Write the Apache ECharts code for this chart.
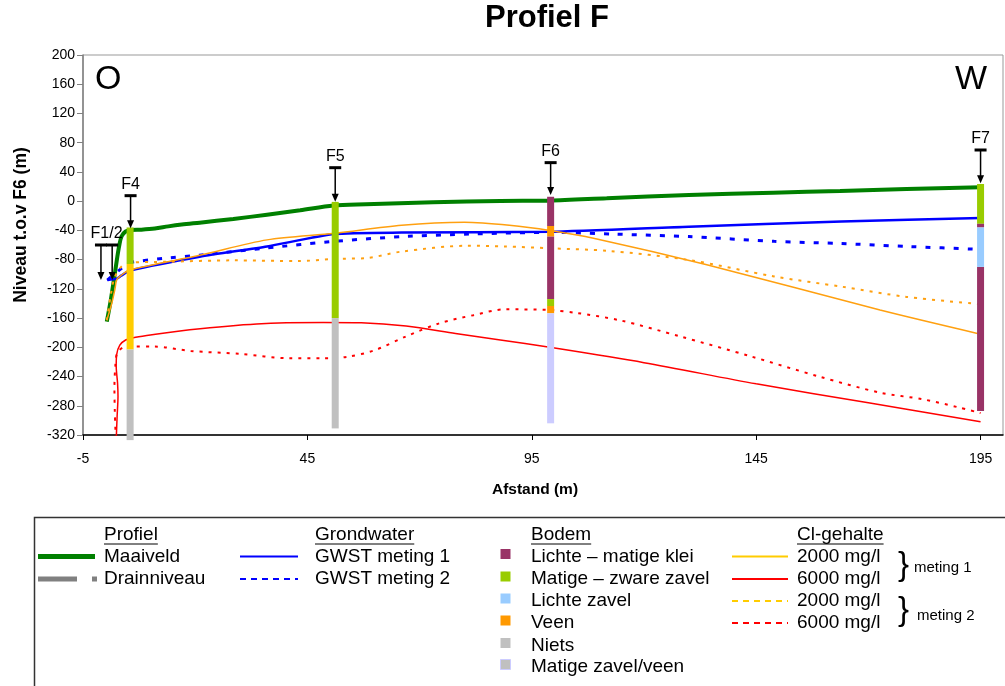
<!DOCTYPE html>
<html>
<head>
<meta charset="utf-8">
<title>Profiel F</title>
<script src="https://cdn.jsdelivr.net/npm/echarts@6/dist/echarts.min.js"></script>
<style>
  html, body { margin: 0; padding: 0; background: #fff; }
  #chart { width: 1005px; height: 686px; }
</style>
</head>
<body>
<div id="chart"></div>
<script>
// ---- Meetgegevens: [afstand (m), niveau t.o.v. F6] ----
const maaiveld = [[0.3,-165],[1.2,-135],[2.1,-99],[2.65,-76],[3.1,-60],[3.6,-48],[4.5,-41.5],[5.7,-39.5],[8,-39],[11,-37.5],[14,-34.5],[17,-32],[21,-29.4],[28.5,-24.4],[36,-18.5],[43.4,-12.5],[50.8,-6],[58,-4.3],[73,-1.5],[88,0.3],[99,0.7],[111.7,4],[130,8.5],[148.8,11.6],[163.7,14],[178.5,16.7],[195,19]];

const gwstMeting1 = [[0.4,-108],[2.5,-106],[3.5,-102],[5.5,-95],[21,-76],[36,-62],[51,-45],[66,-43],[99,-42],[130,-35],[164,-28],[195,-23]];
const gwstMeting2 = [[0.4,-108],[2,-100],[3.6,-92],[5.5,-84],[13.6,-78],[21,-74],[36,-64],[51,-55],[66,-48.5],[81,-45],[99,-42.6],[113,-45],[130,-48.5],[149,-55],[164,-58],[178.5,-62],[195,-66]];

const cl2000Meting1 = [[0.3,-163],[1.4,-140],[2.1,-121],[2.5,-108],[3.2,-103],[5.5,-94],[21,-74],[36,-53],[51,-44],[66,-33],[80,-29],[90,-33],[99,-40],[109,-51],[134,-87],[172.6,-149],[195,-182]];
const cl6000Meting1 = [[2.4,-327],[2.6,-295],[2.8,-267],[2.7,-249],[2.4,-226],[2.5,-210],[3.2,-197],[4.5,-190],[6.2,-187],[9.2,-184],[18.8,-176],[33.7,-168],[48.5,-166],[57,-166.5],[67,-171],[78,-181],[88,-190],[99,-200],[120,-221],[145,-250],[170,-276],[195,-302]];
const cl2000Meting2 = [[0.3,-163],[1.2,-128],[2,-105],[3.5,-90],[5.5,-84],[13.6,-83],[28.5,-81],[43,-82],[51,-79],[58,-78],[66,-69],[80.5,-61],[89,-62],[99,-64.5],[112,-68],[130,-80.5],[149,-103],[164,-117],[178.5,-131],[195,-141]];
const cl6000Meting2 = [[2.3,-325],[2.1,-290],[2,-255],[2.2,-226],[2.6,-208],[4,-200],[6,-199],[11,-199],[19,-205],[30,-209],[41,-215],[48,-215],[54,-213],[60,-204],[67,-185],[74.5,-167],[82,-156],[89,-148],[99,-149],[105,-153],[114.6,-163],[128,-185],[143.6,-212],[159,-240],[172.6,-262],[182,-271],[190,-282],[195,-290]];

// ---- Bodemopbouw per boring: [afstand, bovenkant, onderkant, bodemsoort] ----
const bodemSoorten = ['Lichte – matige klei', 'Matige – zware zavel', 'Lichte zavel', 'Veen', 'Niets', 'Matige zavel/veen', 'Zavel'];
const bodemF4 = [[5.5,-36,-86,1],[5.5,-86,-203,6],[5.5,-203,-327,4]];
const bodemF5 = [[51.2,-1,-160,1],[51.2,-160,-311,4]];
const bodemF6 = [[99.2,6,-34,0],[99.2,-34,-48.5,3],[99.2,-48.5,-134,0],[99.2,-134,-143.5,1],[99.2,-143.5,-153.5,3],[99.2,-153.5,-304,5]];
const bodemF7 = [[195,23.5,-31,1],[195,-31,-36,0],[195,-36,-90,2],[195,-90,-287,0]];

// ---- Peilbuizen: naam, afstand(en), bovenkant, maaiveld/waterstand ----
const peilbuizen = ['F1/2', 'F4', 'F5', 'F6', 'F7'];
const peilbuisX = [[-1.0, 1.5], [5.6], [51.2], [99.2], [195]];
const peilbuisTop = [-60, 7.5, 45.8, 52.7, 70];
const peilbuisVoet = [-108, -37, -0.7, 8.5, 24.5];

// ---- Legendateksten ----
const profielLabels = ['Maaiveld', 'Drainniveau'];
const grondwaterLabels = ['GWST meting 1', 'GWST meting 2'];
const clLabels = ['2000 mg/l', '6000 mg/l', '2000 mg/l', '6000 mg/l'];
const metingLabels = ['meting 1', 'meting 2'];

// ---- Stijlen ----
const FONT = '"Liberation Sans", Arial, sans-serif';
const bodemKleuren = ['#993366', '#99CC00', '#99CCFF', '#FF9900', '#C0C0C0', '#CCCCFF', '#FFCC00'];
const kleurMaaiveld = '#008000';
const kleurGwst = '#0000FF';
const kleurCl2000 = '#FFA010';
const kleurCl2000Legenda = '#FFCC00';
const kleurCl6000 = '#FF0000';

const chart = echarts.init(document.getElementById('chart'), null, { renderer: 'canvas' });

function lineSeries(name, data, color, width, dash, smooth) {
  return {
    name, type: 'line', data, showSymbol: false, symbol: 'none',
    smooth: smooth, animation: false,
    lineStyle: { color, width, type: dash || 'solid', cap: 'butt' }
  };
}

function bodemSeries(data) {
  return {
    type: 'custom', clip: false, animation: false, z: 5,
    encode: { x: 0, y: [1, 2] },
    data,
    renderItem(params, api) {
      const top = api.coord([api.value(0), api.value(1)]);
      const bot = api.coord([api.value(0), api.value(2)]);
      return {
        type: 'rect',
        shape: { x: top[0] - 3.5, y: top[1], width: 7, height: bot[1] - top[1] },
        style: { fill: bodemKleuren[api.value(3)] }
      };
    }
  };
}

const peilbuisSeries = {
  type: 'custom', clip: false, animation: false, z: 6,
  encode: { x: 0, y: 1 },
  data: peilbuizen.map((n, i) => [peilbuisX[i][0], peilbuisTop[i], i]),
  renderItem(params, api) {
    const i = api.value(2);
    const children = [];
    let sumX = 0, topY = 0;
    peilbuisX[i].forEach(x => {
      const t = api.coord([x, peilbuisTop[i]]);
      const b = api.coord([x, peilbuisVoet[i]]);
      sumX += t[0]; topY = t[1];
      children.push({ type: 'line', shape: { x1: t[0] - 6, y1: t[1], x2: t[0] + 6, y2: t[1] }, style: { stroke: '#000', lineWidth: 3 } });
      children.push({ type: 'line', shape: { x1: t[0], y1: t[1], x2: t[0], y2: b[1] - 6 }, style: { stroke: '#000', lineWidth: 1.5 } });
      children.push({ type: 'polygon', shape: { points: [[t[0] - 3.5, b[1] - 8], [t[0] + 3.5, b[1] - 8], [t[0], b[1]]] }, style: { fill: '#000' } });
    });
    children.push({
      type: 'text', x: sumX / peilbuisX[i].length, y: topY - 3,
      style: { text: peilbuizen[i], font: '16px ' + FONT, fill: '#000', align: 'center', verticalAlign: 'bottom' }
    });
    return { type: 'group', children };
  }
};

// ---- Legenda (kader onder de grafiek) ----
const measureCtx = document.createElement('canvas').getContext('2d');
function textWidth(text, font) { measureCtx.font = font; return measureCtx.measureText(text).width; }
const LEG_FONT = '19px ' + FONT;
const rowY = [556.5, 579, 601, 623, 645.5, 667];
const headerY = 535;

function legText(x, y, text, font) {
  return { type: 'text', x, y, style: { text, font: font || LEG_FONT, fill: '#000', verticalAlign: 'middle' } };
}
function legHeader(x, text) {
  const w = textWidth(text, LEG_FONT);
  return [legText(x, headerY, text),
    { type: 'line', shape: { x1: x, y1: headerY + 9, x2: x + w, y2: headerY + 9 }, style: { stroke: '#000', lineWidth: 1 } }];
}
function legLine(x1, x2, y, color, width, dash) {
  return { type: 'line', shape: { x1, y1: y, x2, y2: y }, style: { stroke: color, lineWidth: width, lineDash: dash || null } };
}

const legenda = [];
legenda.push({ type: 'rect', shape: { x: 34.5, y: 517.5, width: 1100, height: 300 }, style: { fill: 'none', stroke: '#333', lineWidth: 1.5 } });
// Profiel
legenda.push(...legHeader(104, 'Profiel'));
legenda.push(legLine(38, 95, rowY[0], kleurMaaiveld, 5));
legenda.push(legLine(38, 97, rowY[1], '#808080', 5, [39, 15]));
profielLabels.forEach((t, i) => legenda.push(legText(104, rowY[i], t)));
// Grondwater
legenda.push(...legHeader(315, 'Grondwater'));
legenda.push(legLine(240, 298, rowY[0], kleurGwst, 2));
legenda.push(legLine(240, 298, rowY[1], kleurGwst, 2, [6, 5]));
grondwaterLabels.forEach((t, i) => legenda.push(legText(315, rowY[i], t)));
// Bodem
legenda.push(...legHeader(531, 'Bodem'));
bodemSoorten.slice(0, 6).forEach((t, i) => {
  const last = i === 5;
  legenda.push({
    type: 'rect', shape: { x: 500.5, y: rowY[i] - 7.5, width: 10, height: 10 },
    style: { fill: last ? bodemKleuren[4] : bodemKleuren[i], stroke: last ? bodemKleuren[5] : null, lineWidth: 1 }
  });
  legenda.push(legText(531, rowY[i], t));
});
// Cl-gehalte
legenda.push(...legHeader(797, 'Cl-gehalte'));
legenda.push(legLine(732, 788, rowY[0], kleurCl2000Legenda, 2));
legenda.push(legLine(732, 788, rowY[1], kleurCl6000, 2));
legenda.push(legLine(732, 788, rowY[2], kleurCl2000Legenda, 2, [6, 5]));
legenda.push(legLine(732, 788, rowY[3], kleurCl6000, 2, [6, 5]));
clLabels.forEach((t, i) => legenda.push(legText(797, rowY[i], t)));
legenda.push(legText(898, 566, '}', '33px ' + FONT));
legenda.push(legText(898, 611, '}', '33px ' + FONT));
legenda.push(legText(914, 568, metingLabels[0], '15px ' + FONT));
legenda.push(legText(917, 616, metingLabels[1], '15px ' + FONT));

const option = {
  backgroundColor: '#fff',
  animation: false,
  textStyle: { fontFamily: FONT },
  grid: { left: 83, right: 2, top: 55, bottom: 251, show: true, borderColor: '#999', borderWidth: 1, containLabel: false },
  xAxis: {
    type: 'value', min: -5, max: 200, interval: 50,
    name: 'Afstand (m)', nameLocation: 'middle', nameGap: 47,
    nameTextStyle: { fontSize: 15.5, fontWeight: 'bold', color: '#000', fontFamily: FONT, padding: [0, 16, 0, 0] },
    axisLine: { show: true, onZero: false, lineStyle: { color: '#000', width: 1.5 } },
    axisTick: { show: true, length: 5, lineStyle: { color: '#000' } },
    axisLabel: { fontSize: 14, color: '#000', margin: 17, showMaxLabel: false, fontFamily: FONT },
    splitLine: { show: false }
  },
  yAxis: {
    type: 'value', min: -320, max: 200, interval: 40,
    axisLine: { show: true, onZero: false, lineStyle: { color: '#808080', width: 1.5 } },
    axisTick: { show: true, length: 6, lineStyle: { color: '#808080' } },
    axisLabel: { fontSize: 14, color: '#000', margin: 8, fontFamily: FONT },
    splitLine: { show: false }
  },
  graphic: [
    { type: 'text', x: 547, y: 18, style: { text: 'Profiel F', font: 'bold 31px ' + FONT, fill: '#000', align: 'center', verticalAlign: 'middle' } },
    { type: 'text', x: 21, y: 225, rotation: Math.PI / 2, style: { text: 'Niveau t.o.v F6 (m)', font: 'bold 17.5px ' + FONT, fill: '#000', align: 'center', verticalAlign: 'middle' } },
    { type: 'text', x: 95, y: 80, style: { text: 'O', font: '34px ' + FONT, fill: '#000', verticalAlign: 'middle' } },
    { type: 'text', x: 987, y: 80, style: { text: 'W', font: '34px ' + FONT, fill: '#000', align: 'right', verticalAlign: 'middle' } },
    ...legenda
  ],
  series: [
    lineSeries('Maaiveld', maaiveld, kleurMaaiveld, 4, 'solid', 0.3),
    lineSeries('GWST meting 1', gwstMeting1, kleurGwst, 2.5, 'solid', 0.2),
    lineSeries('GWST meting 2', gwstMeting2, kleurGwst, 3, [5, 9], 0.2),
    lineSeries('2000 mg/l meting 1', cl2000Meting1, kleurCl2000, 1.5, 'solid', 0.3),
    lineSeries('6000 mg/l meting 1', cl6000Meting1, kleurCl6000, 1.5, 'solid', 0.3),
    lineSeries('2000 mg/l meting 2', cl2000Meting2, kleurCl2000, 2, [3, 6], 0.3),
    lineSeries('6000 mg/l meting 2', cl6000Meting2, kleurCl6000, 2, [3, 6], 0.3),
    bodemSeries(bodemF4),
    bodemSeries(bodemF5),
    bodemSeries(bodemF6),
    bodemSeries(bodemF7),
    peilbuisSeries
  ]
};

chart.setOption(option);
</script>
</body>
</html>
